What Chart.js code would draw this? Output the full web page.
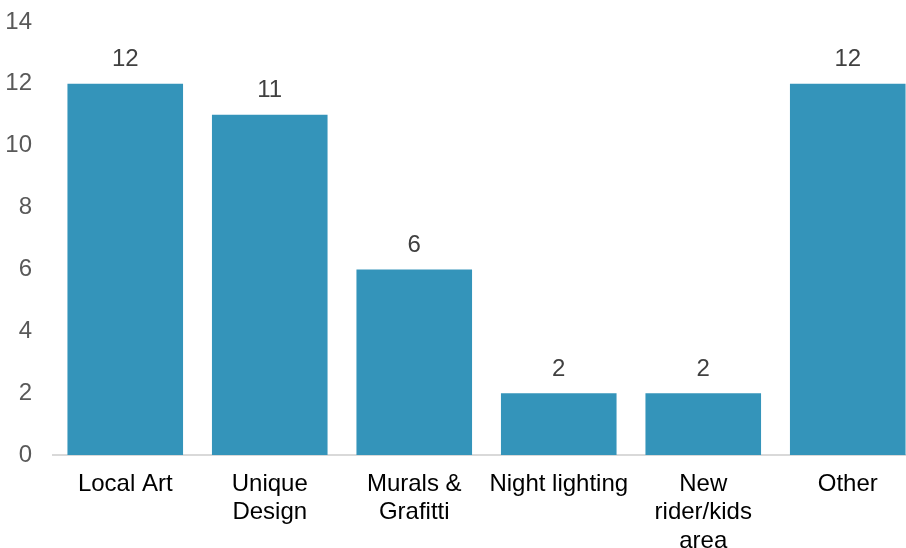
<!DOCTYPE html>
<html>
<head>
<meta charset="utf-8">
<script src="https://cdn.jsdelivr.net/npm/chart.js@4"></script>
<style>
  html, body { margin: 0; padding: 0; background: #fff; overflow: hidden; }
  #wrap { width: 920px; height: 548px; }
</style>
</head>
<body>
<div id="wrap"><canvas id="chart" width="920" height="548"></canvas></div>
<script>
  /* --- Data --- */
  var CATEGORIES = [
    "Local Art",
    ["Unique", "Design"],
    ["Murals &", "Grafitti"],
    "Night lighting",
    ["New", "rider/kids", "area"],
    "Other",
  ];
  var VALUES = [12, 11, 6, 2, 2, 12];
  var Y_TICKS = [0, 2, 4, 6, 8, 10, 12, 14];

  var BAR_COLOR = "#3494BA";
  var FONT = '"Liberation Sans", Arial, sans-serif';

  /* --- Value labels above bars --- */
  var valueLabels = {
    id: "valueLabels",
    afterDatasetsDraw: function (chart) {
      var ctx = chart.ctx;
      var meta = chart.getDatasetMeta(0);
      ctx.save();
      ctx.font = "24px " + FONT;
      ctx.fillStyle = "#404040";
      ctx.textAlign = "center";
      ctx.textBaseline = "middle";
      meta.data.forEach(function (bar, i) {
        ctx.fillText(String(VALUES[i]), bar.x, bar.y - 24);
      });
      ctx.restore();
    },
  };

  new Chart(document.getElementById("chart"), {
    type: "bar",
    data: {
      labels: CATEGORIES,
      datasets: [
        {
          data: VALUES,
          backgroundColor: BAR_COLOR,
          barPercentage: 0.8,
          categoryPercentage: 1,
        },
      ],
    },
    options: {
      responsive: false,
      animation: false,
      layout: { padding: 0 },
      plugins: {
        legend: { display: false },
        tooltip: { enabled: false },
      },
      scales: {
        x: {
          grid: { display: false, drawTicks: false },
          border: { display: true, color: "#d9d9d9", width: 2 },
          ticks: {
            color: "#000",
            font: { family: FONT, size: 24, lineHeight: 1.19 },
            padding: 15,
            maxRotation: 0,
            autoSkip: false,
          },
          afterFit: function (scale) {
            scale.height = 93;
          },
        },
        y: {
          min: Y_TICKS[0],
          max: Y_TICKS[Y_TICKS.length - 1],
          grid: { display: false, drawTicks: false },
          border: { display: false },
          ticks: {
            stepSize: 2,
            color: "#595959",
            font: { family: FONT, size: 24 },
            padding: 21,
          },
          afterFit: function (scale) {
            scale.width = 53;
            scale.paddingTop = 22;
          },
        },
      },
    },
    plugins: [valueLabels],
  });
</script>
</body>
</html>
